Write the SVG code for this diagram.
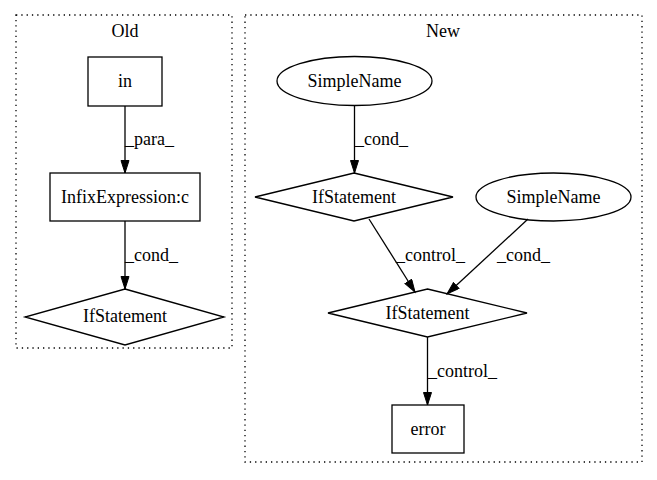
<svg xmlns="http://www.w3.org/2000/svg" width="657" height="480" viewBox="0 0 657 480">
<style>
text{font-family:"Liberation Serif","Times New Roman",serif;font-size:18px;fill:#000}
.c{text-anchor:middle}
.cl{fill:none;stroke:#000;stroke-width:1.3;stroke-dasharray:1.3,4}
.n{fill:none;stroke:#000;stroke-width:1.3}
.e{fill:none;stroke:#000;stroke-width:1.3;marker-end:url(#ah)}
</style>
<defs>
<marker id="ah" markerUnits="userSpaceOnUse" markerWidth="15" markerHeight="11" refX="13" refY="4.5" orient="auto">
<path d="M0.5,0.5 L13,4.5 L0.5,8.5 z" fill="#000" stroke="#000" stroke-width="1"/>
</marker>
</defs>
<rect width="657" height="480" fill="#fff"/>
<g id="cluster_old">
<rect class="cl" x="16" y="15" width="216" height="333"/>
<text class="c" x="125" y="37">Old</text>
</g>
<g id="cluster_new">
<rect class="cl" x="245" y="15" width="397" height="447"/>
<text class="c" x="443" y="37">New</text>
</g>
<g id="edges">
<path class="e" d="M125,106 L125,173"/>
<text x="125" y="145">_para_</text>
<path class="e" d="M125,221 L125,289"/>
<text x="125" y="261">_cond_</text>
<path class="e" d="M354.5,106 L354.5,173"/>
<text x="355" y="145">_cond_</text>
<path class="e" d="M369,219 L415,292"/>
<text x="396" y="261">_control_</text>
<path class="e" d="M528,219 L447,294"/>
<text x="497" y="261">_cond_</text>
<path class="e" d="M427.5,337 L427.5,405"/>
<text x="428" y="377">_control_</text>
</g>
<g id="old_in">
<rect class="n" x="88" y="57" width="74" height="49"/>
<text class="c" x="125" y="87">in</text>
</g>
<g id="old_infix">
<rect class="n" x="50" y="173" width="150" height="48"/>
<text class="c" x="125" y="203">InfixExpression:c</text>
</g>
<g id="old_if">
<polygon class="n" points="125,289 224,317 125,345 25,317"/>
<text class="c" x="125" y="322">IfStatement</text>
</g>
<g id="new_simplename1">
<ellipse class="n" cx="354.5" cy="81" rx="77.5" ry="24.5"/>
<text class="c" x="354.5" y="87">SimpleName</text>
</g>
<g id="new_if1">
<polygon class="n" points="354,173 453,197 354,221 255,197"/>
<text class="c" x="354" y="203">IfStatement</text>
</g>
<g id="new_simplename2">
<ellipse class="n" cx="553.5" cy="197" rx="77.5" ry="24"/>
<text class="c" x="553.5" y="203">SimpleName</text>
</g>
<g id="new_if2">
<polygon class="n" points="427.5,289 527,313 427.5,337 328,313"/>
<text class="c" x="427.5" y="319">IfStatement</text>
</g>
<g id="new_error">
<rect class="n" x="392" y="405" width="72" height="48"/>
<text class="c" x="428" y="435">error</text>
</g>
</svg>
